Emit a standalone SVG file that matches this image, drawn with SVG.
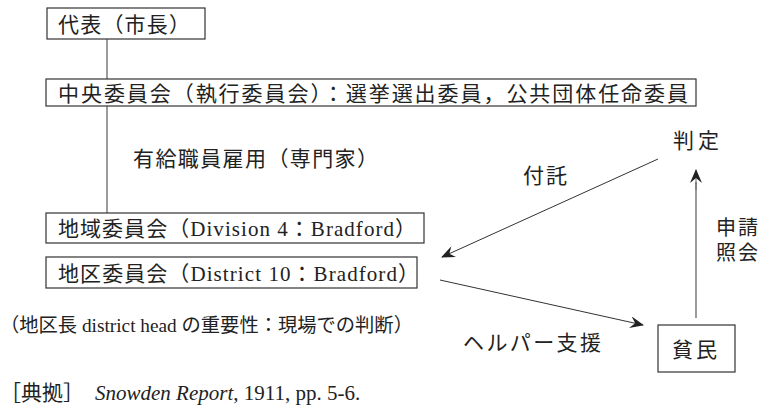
<svg xmlns="http://www.w3.org/2000/svg" width="761" height="405" viewBox="0 0 761 405">
<style>
  .t { font-family: "Liberation Serif", "Noto Sans CJK JP", serif; font-size: 21px; fill: #222; }
  .s { font-family: "Liberation Serif", "Noto Sans CJK JP", serif; font-size: 20px; fill: #222; }
  .n { font-family: "Liberation Serif", "Noto Sans CJK JP", serif; font-size: 19.3px; fill: #222; }
  .box { fill: #fff; stroke: #333; stroke-width: 1.2; }
  .ln { stroke: #666; stroke-width: 1.3; fill: none; }
  .ar { stroke: #333; stroke-width: 1; fill: none; marker-end: url(#ah); }
</style>
<defs>
  <marker id="ah" viewBox="0 0 14 12" refX="13" refY="6" markerWidth="14" markerHeight="12" markerUnits="userSpaceOnUse" orient="auto">
    <path d="M0,0 L14,6 L0,12 L5,6 Z" fill="#222"/>
  </marker>
</defs>
<rect width="761" height="405" fill="#fff"/>
<g id="connectors">
  <line class="ln" x1="107" y1="39" x2="107" y2="79"/>
  <line class="ln" x1="107" y1="106" x2="107" y2="213"/>
  <line class="ar" x1="658" y1="159" x2="442" y2="257"/>
  <line class="ar" x1="440" y1="280" x2="643" y2="325"/>
  <line class="ln" x1="696" y1="318" x2="696" y2="182"/>
  <line class="ar" x1="696" y1="190" x2="696" y2="170" style="stroke:#666"/>
</g>
<g id="mayor">
  <rect class="box" x="47" y="8" width="158" height="31"/>
  <text class="t" x="58" y="32" textLength="132">代表（市長）</text>
</g>
<g id="central">
  <rect class="box" x="46" y="79" width="650" height="27"/>
  <text class="t" x="58" y="101" textLength="630">中央委員会（執行委員会）：選挙選出委員，公共団体任命委員</text>
</g>
<text class="t" x="133" y="166" textLength="245">有給職員雇用（専門家）</text>
<g id="division">
  <rect class="box" x="46" y="213" width="378" height="30"/>
  <text class="t" x="58" y="236" textLength="358">地域委員会（Division 4：Bradford）</text>
</g>
<g id="district">
  <rect class="box" x="46" y="257" width="371" height="31"/>
  <text class="t" x="58" y="281" textLength="361">地区委員会（District 10：Bradford）</text>
</g>
<g id="judgement">
  <text class="t" x="673" y="148" textLength="46">判定</text>
</g>
<text class="t" x="523" y="183" textLength="44">付託</text>
<text class="s" x="716" y="235" textLength="42">申請</text>
<text class="s" x="716" y="260" textLength="42">照会</text>
<g id="poor">
  <rect class="box" x="658" y="325" width="77" height="47"/>
  <text class="t" x="672" y="357" textLength="45">貧民</text>
</g>
<text class="t" x="463" y="350" textLength="138">ヘルパー支援</text>
<text class="n" x="0" y="332">（地区長 district head の重要性：現場での判断）</text>
<text class="t" x="0" y="400">［典拠］<tspan x="95" font-style="italic">Snowden Report</tspan>, 1911, pp. 5-6.</text>
</svg>
